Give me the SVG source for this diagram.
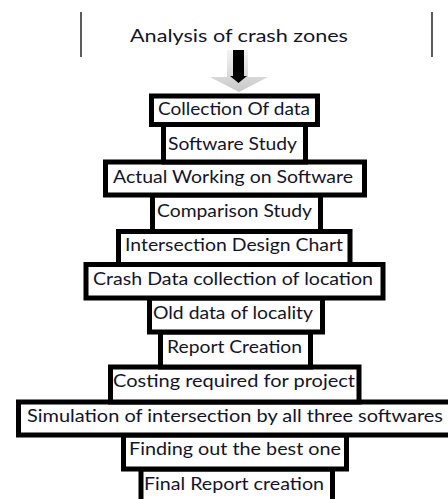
<svg xmlns="http://www.w3.org/2000/svg" width="448" height="499" viewBox="0 0 448 499">
<defs>
<style>
.box{fill:#fff;stroke:#000;stroke-width:5;stroke-linejoin:miter}
.t{font-family:Lato,"Liberation Sans",sans-serif;font-size:17px;fill:#141428;text-anchor:middle}
.vl{stroke:#333;stroke-width:1.6}
</style>
<linearGradient id="ag" x1="0" y1="0" x2="0" y2="1">
<stop offset="0" stop-color="#f4f4f4"/>
<stop offset="1" stop-color="#c8c8c8"/>
</linearGradient>
</defs>
<rect width="448" height="499" fill="#fff"/>
<g id="title">
<line class="vl" x1="81" y1="12" x2="81" y2="57"/>
<line class="vl" x1="432" y1="12" x2="432" y2="57"/>
<text class="t" x="239" y="42" textLength="218" lengthAdjust="spacingAndGlyphs">Analysis of crash zones</text>
</g>
<g id="connectors">
<polygon points="227,50 248,50 248,77 268,77 239,92 210,77 227,77" fill="url(#ag)"/>
<polygon points="233,50 244,50 244,76 247,76 238.5,83 230,76 233,76" fill="#000"/>
</g>
<g id="n12"><rect class="box" x="141" y="469" width="191.5" height="45"/><text class="t" x="234" y="490" textLength="180" lengthAdjust="spacingAndGlyphs">Final Report creation</text></g>
<g id="n11"><rect class="box" x="123.5" y="435" width="223" height="34"/><text class="t" x="235" y="455" textLength="212" lengthAdjust="spacingAndGlyphs">Finding out the best one</text></g>
<g id="n10"><rect class="box" x="18.5" y="402" width="445" height="33"/><text class="t" x="235" y="422" textLength="416" lengthAdjust="spacingAndGlyphs">Simulation  of intersection by all three softwares</text></g>
<g id="n9"><rect class="box" x="110.5" y="367" width="248.5" height="35"/><text class="t" x="234" y="387" textLength="242" lengthAdjust="spacingAndGlyphs">Costing required for project</text></g>
<g id="n8"><rect class="box" x="160.5" y="332" width="150" height="35"/><text class="t" x="234.5" y="353" textLength="135" lengthAdjust="spacingAndGlyphs">Report Creation</text></g>
<g id="n7"><rect class="box" x="149.5" y="298" width="173" height="34"/><text class="t" x="233" y="319" textLength="160" lengthAdjust="spacingAndGlyphs">Old data  of locality</text></g>
<g id="n6"><rect class="box" x="86" y="264.5" width="297" height="33.5"/><text class="t" x="233" y="285" textLength="280" lengthAdjust="spacingAndGlyphs">Crash Data  collection of  location</text></g>
<g id="n5"><rect class="box" x="118.5" y="231.5" width="231.5" height="33"/><text class="t" x="234" y="251" textLength="218" lengthAdjust="spacingAndGlyphs">Intersection Design  Chart</text></g>
<g id="n4"><rect class="box" x="152.5" y="195" width="168" height="36.5"/><text class="t" x="234.5" y="217" textLength="155" lengthAdjust="spacingAndGlyphs">Comparison Study</text></g>
<g id="n3"><rect class="box" x="105.5" y="162" width="259" height="33"/><text class="t" x="233" y="183" textLength="240" lengthAdjust="spacingAndGlyphs">Actual Working on Software</text></g>
<g id="n2"><rect class="box" x="163.5" y="124.5" width="142" height="37.5"/><text class="t" x="232.5" y="150" textLength="129" lengthAdjust="spacingAndGlyphs">Software Study</text></g>
<g id="n1"><rect class="box" x="151.5" y="96" width="166" height="28.5"/><text class="t" x="234" y="115" textLength="152" lengthAdjust="spacingAndGlyphs">Collection Of data</text></g>
</svg>
